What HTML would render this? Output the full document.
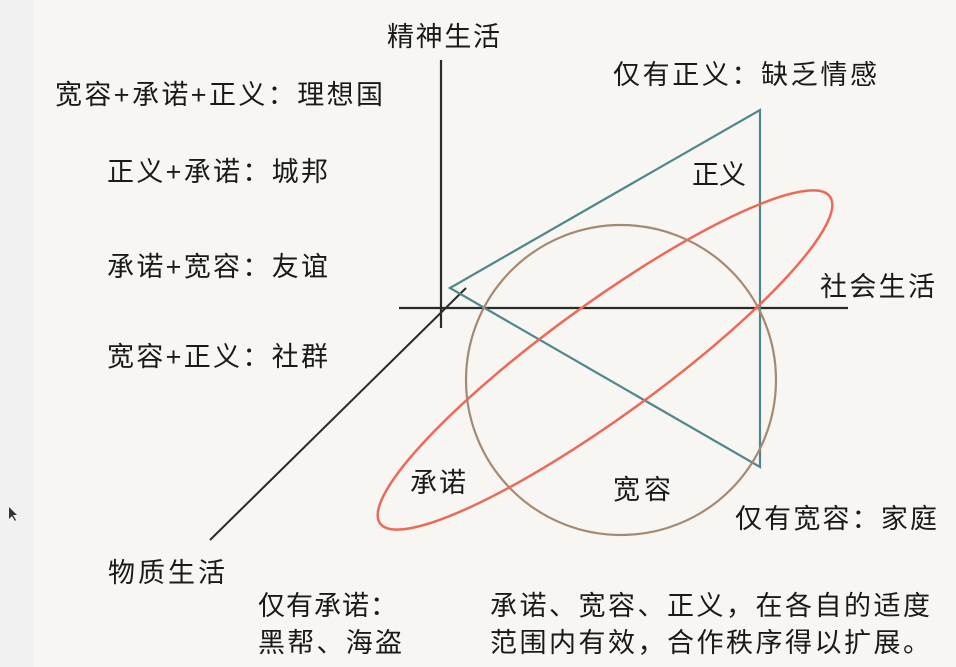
<!DOCTYPE html>
<html><head><meta charset="utf-8"><style>
html,body{margin:0;padding:0;background:#f8f6f2;}
svg{display:block}
text{font-family:"Liberation Sans","Noto Sans CJK SC",sans-serif;font-size:27px;fill:#1a1a1a;dominant-baseline:central}
</style></head><body>
<svg width="956" height="667" viewBox="0 0 956 667">
<rect x="0" y="0" width="956" height="667" fill="#f8f6f2"/>
<rect x="0" y="0" width="33" height="667" fill="#f1f1f1"/>
<line x1="441" y1="60" x2="441" y2="328" stroke="#2a2a2a" stroke-width="2.2"/>
<line x1="399" y1="308" x2="848" y2="308" stroke="#2a2a2a" stroke-width="2.2"/>
<line x1="466" y1="288" x2="210" y2="540" stroke="#2a2a2a" stroke-width="2"/>
<polygon points="450,288 760,110 760,467" fill="none" stroke="#4f8790" stroke-width="2.2"/>
<circle cx="621" cy="380" r="155" fill="none" stroke="#a58a70" stroke-width="2.2"/>
<ellipse cx="605" cy="360" rx="278" ry="56" transform="rotate(-36 605 360)" fill="none" stroke="#ec6a57" stroke-width="2.5"/>
<text x="387" y="37" textLength="113">精神生活</text>
<text x="55" y="95" textLength="328">宽容+承诺+正义：理想国</text>
<text x="107" y="172" textLength="221">正义+承诺：城邦</text>
<text x="107" y="267" textLength="221">承诺+宽容：友谊</text>
<text x="107" y="357" textLength="221">宽容+正义：社群</text>
<text x="613" y="75" textLength="264">仅有正义：缺乏情感</text>
<text x="692" y="175" textLength="54">正义</text>
<text x="820" y="287" textLength="115">社会生活</text>
<text x="410" y="483" textLength="56">承诺</text>
<text x="613" y="490" textLength="58">宽容</text>
<text x="735" y="519" textLength="202">仅有宽容：家庭</text>
<text x="108" y="573" textLength="117">物质生活</text>
<text x="258" y="606" textLength="139">仅有承诺：</text>
<text x="258" y="643" textLength="144">黑帮、海盗</text>
<text x="490" y="606" textLength="440">承诺、宽容、正义，在各自的适度</text>
<text x="490" y="643" textLength="440">范围内有效，合作秩序得以扩展。</text>
<polygon points="9,507 9,519 12,516 15,521 16,520 13,515 17,515" fill="#333"/>
</svg>
</body></html>
